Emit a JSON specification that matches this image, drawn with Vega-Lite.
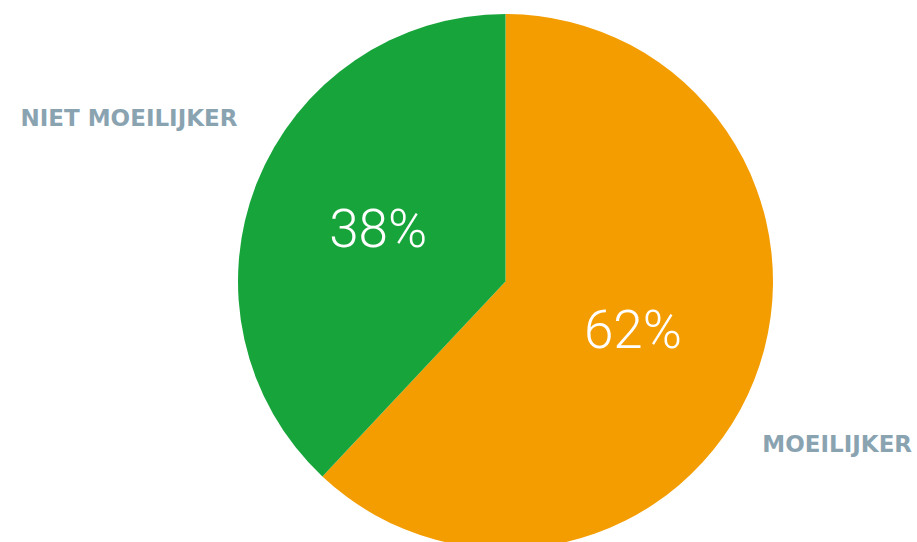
{
  "$schema": "https://vega.github.io/schema/vega-lite/v6.json",
  "width": 823,
  "height": 521,
  "autosize": {"type": "none"},
  "padding": {"left": 94, "top": 21, "right": 0, "bottom": 0},
  "background": "white",
  "view": {"stroke": null},
  "data": {
    "values": [
      {"cat": "MOEILIJKER", "pct": 62, "label": "62%", "idx": 1},
      {"cat": "NIET MOEILIJKER", "pct": 38, "label": "38%", "idx": 2}
    ]
  },
  "encoding": {
    "theta": {"field": "pct", "type": "quantitative", "stack": true},
    "order": {"field": "idx", "type": "quantitative"}
  },
  "layer": [
    {
      "mark": {"type": "arc", "outerRadius": 267.5},
      "encoding": {
        "color": {
          "field": "cat",
          "type": "nominal",
          "scale": {"domain": ["MOEILIJKER", "NIET MOEILIJKER"], "range": ["#f49d00", "#17a53b"]},
          "legend": null
        }
      }
    },
    {
      "mark": {"type": "text", "radius": 137, "font": "Roboto", "fontWeight": 300, "fontSize": 53, "color": "white", "baseline": "middle", "align": "center"},
      "encoding": {"text": {"field": "label", "type": "nominal"}}
    },
    {
      "mark": {"type": "text", "radius": 410, "thetaOffset": 0.03, "font": "DejaVu Sans", "fontWeight": "bold", "fontSize": 23, "color": "#8aa3b1", "baseline": "middle", "align": "center"},
      "encoding": {
        "text": {"condition": {"test": "datum.cat === 'NIET MOEILIJKER'", "field": "cat"}, "value": ""}
      }
    },
    {
      "mark": {"type": "text", "radius": 370, "thetaOffset": 0.082, "font": "DejaVu Sans", "fontWeight": "bold", "fontSize": 23, "color": "#8aa3b1", "baseline": "middle", "align": "center"},
      "encoding": {
        "text": {"condition": {"test": "datum.cat === 'MOEILIJKER'", "field": "cat"}, "value": ""}
      }
    }
  ]
}
